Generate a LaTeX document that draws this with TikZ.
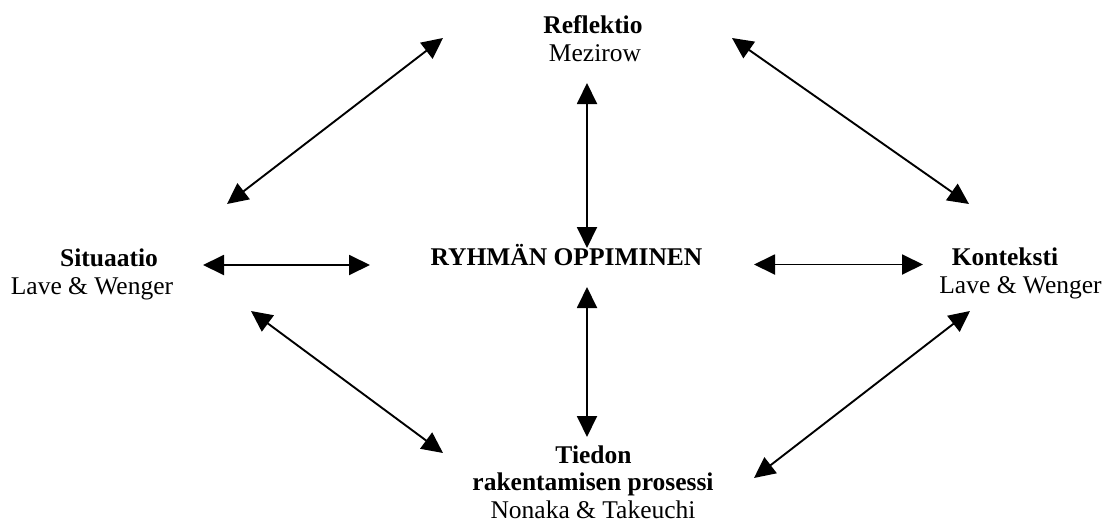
\documentclass[tikz,border=0pt]{standalone}
\usepackage{fontspec}
\setmainfont{Liberation Serif}
\usetikzlibrary{arrows.meta}
\tikzset{
  lbl/.style={inner sep=0pt, anchor=base, font=\fontsize{25.5}{27.6}\selectfont},
  blbl/.style={lbl, font=\fontsize{25.5}{27.6}\selectfont\bfseries},
  link/.style={line width=1.9pt, {Triangle[length=21pt,width=20pt]}-{Triangle[length=21pt,width=20pt]}}
}
\begin{document}
\begin{tikzpicture}[x=1pt,y=-1pt]
\useasboundingbox (0,0) rectangle (1109,525);
% labels
\node[blbl] (refl) at (593,33) {Reflektio};
\node[lbl] (mez) at (595,61) {Mezirow};
\node[blbl] (ryh) at (566.5,265.5) {RYHMÄN OPPIMINEN};
\node[blbl] (sit) at (109,266) {Situaatio};
\node[lbl] (sitA) at (92,294) {Lave \& Wenger};
\node[blbl] (kon) at (1005,265) {Konteksti};
\node[lbl] (konA) at (1020.5,293) {Lave \& Wenger};
\node[blbl] (tie1) at (593.5,463) {Tiedon};
\node[blbl] (tie2) at (593,490.5) {rakentamisen prosessi};
\node[lbl] (tieA) at (593,518) {Nonaka \& Takeuchi};
% arrow end points
\coordinate (tlA) at (227,204); \coordinate (tlB) at (443,38);
\coordinate (trA) at (732,38);  \coordinate (trB) at (969,204);
\coordinate (blA) at (251,311); \coordinate (blB) at (443,453);
\coordinate (brA) at (970,311); \coordinate (brB) at (754,478);
\coordinate (vtA) at (587,83);  \coordinate (vtB) at (587,248);
\coordinate (vbA) at (587,287); \coordinate (vbB) at (587,437);
\coordinate (hlA) at (203,265); \coordinate (hlB) at (370,265);
\coordinate (hrA) at (754,264.5); \coordinate (hrB) at (923,264.5);
% connectors
\draw[link] (tlA) -- (tlB);
\draw[link] (trA) -- (trB);
\draw[link] (blA) -- (blB);
\draw[link] (brA) -- (brB);
\draw[link] (vtA) -- (vtB);
\draw[link] (vbA) -- (vbB);
\draw[link] (hlA) -- (hlB);
\draw[link] (hrA) -- (hrB);
\end{tikzpicture}
\end{document}
